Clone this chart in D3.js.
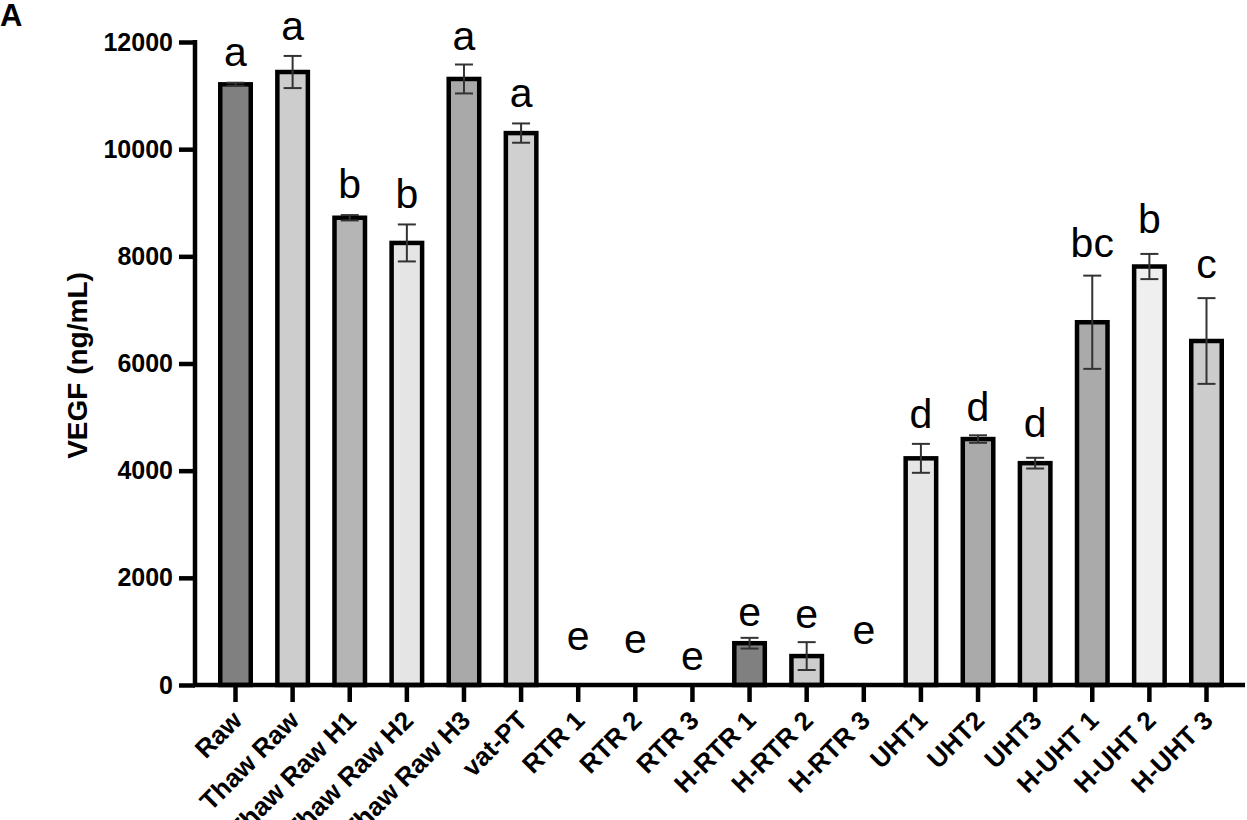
<!DOCTYPE html>
<html>
<head>
<meta charset="utf-8">
<script src="https://cdn.jsdelivr.net/npm/d3@7"></script>
<style>
  html, body { margin: 0; padding: 0; background: #fff; }
  svg { display: block; }
  text { font-family: "Liberation Sans", Arial, Helvetica, sans-serif; }
</style>
</head>
<body>
<svg id="chart" width="1247" height="820"></svg>
<script>
// ---- data ----
const categories = ["Raw", "Thaw Raw", "Thaw Raw H1", "Thaw Raw H2", "Thaw Raw H3", "vat-PT",
  "RTR 1", "RTR 2", "RTR 3", "H-RTR 1", "H-RTR 2", "H-RTR 3",
  "UHT1", "UHT2", "UHT3", "H-UHT 1", "H-UHT 2", "H-UHT 3"];
const means = [11210, 11440, 8720, 8250, 11310, 10300,
  0, 0, 0, 780, 540, 0,
  4230, 4590, 4140, 6770, 7810, 6420];
const errors = [30, 300, 50, 345, 270, 180,
  0, 0, 0, 100, 260, 0,
  270, 70, 100, 870, 235, 800];
const letters = ["a", "a", "b", "b", "a", "a",
  "e", "e", "e", "e", "e", "e",
  "d", "d", "d", "bc", "b", "c"];
// height (in ng/mL) at which each significance letter sits
const letterAt = [11550, 12040, 9090, 8900, 11850, 10790,
  650, 600, 280, 1100, 1060, 765,
  4800, 4930, 4630, 7990, 8440, 7600];
const fills = ["#808080", "#cdcdcd", "#b5b5b5", "#e5e5e5", "#a9a9a9", "#d0d0d0",
  "#808080", "#cdcdcd", "#b5b5b5", "#808080", "#cdcdcd", "#b5b5b5",
  "#e6e6e6", "#aaaaaa", "#cccccc", "#aaaaaa", "#efefef", "#cccccc"];
const yTicks = [0, 2000, 4000, 6000, 8000, 10000, 12000];
const yLabel = "VEGF (ng/mL)";
const panelLabel = "A";

// ---- layout ----
const svg = d3.select("#chart");
const axisX = 195, baseY = 685, topY = 42, axisRight = 1245;

const x = d3.scaleBand().domain(categories)
  .range([206.94, 1235.06]).paddingInner(0.466).paddingOuter(0.233);
const y = d3.scaleLinear().domain([0, 12000]).range([baseY, topY]);

const data = categories.map((c, i) => ({
  cat: c, mean: means[i], err: errors[i], letter: letters[i], at: letterAt[i], fill: fills[i]
}));

// bars
svg.append("g").selectAll("rect")
  .data(data.filter(d => d.mean > 0))
  .join("rect")
  .attr("x", d => x(d.cat))
  .attr("y", d => y(d.mean))
  .attr("width", x.bandwidth())
  .attr("height", d => y(0) - y(d.mean))
  .attr("fill", d => d.fill)
  .attr("stroke", "#000")
  .attr("stroke-width", 4.5);

// error bars
const cap = 18;
const eg = svg.append("g").attr("stroke", "#333").attr("stroke-width", 2).attr("fill", "none");
data.filter(d => d.err > 0).forEach(d => {
  const cx = x(d.cat) + x.bandwidth() / 2;
  eg.append("line").attr("x1", cx).attr("x2", cx)
    .attr("y1", y(d.mean - d.err)).attr("y2", y(d.mean + d.err));
  eg.append("line").attr("x1", cx - cap / 2).attr("x2", cx + cap / 2)
    .attr("y1", y(d.mean + d.err)).attr("y2", y(d.mean + d.err));
  eg.append("line").attr("x1", cx - cap / 2).attr("x2", cx + cap / 2)
    .attr("y1", y(d.mean - d.err)).attr("y2", y(d.mean - d.err));
});

// letters
svg.append("g").selectAll("text")
  .data(data)
  .join("text")
  .attr("x", d => x(d.cat) + x.bandwidth() / 2)
  .attr("y", d => y(d.at))
  .attr("text-anchor", "middle")
  .attr("font-size", 41)
  .attr("fill", "#000")
  .text(d => d.letter);

// y axis
const yAxis = svg.append("g").attr("transform", `translate(${axisX},0)`)
  .call(d3.axisLeft(y).tickValues(yTicks).tickSize(16).tickPadding(6).tickFormat(d3.format("d")));
yAxis.select(".domain").attr("d", `M0,${topY - 2}V${baseY}`).attr("stroke", "#000").attr("stroke-width", 4.5);
yAxis.selectAll(".tick line").attr("stroke", "#000").attr("stroke-width", 4.5);
yAxis.selectAll(".tick text").attr("font-size", 25).attr("font-weight", "bold").attr("fill", "#000")
  .style("font-family", "'Liberation Sans', Arial, sans-serif");

// x axis
const xAxis = svg.append("g").attr("transform", `translate(0,${baseY})`)
  .call(d3.axisBottom(x).tickSize(17).tickFormat(""));
xAxis.select(".domain").attr("d", `M${axisX - 2},0H${axisRight}`).attr("stroke", "#000").attr("stroke-width", 4.5);
xAxis.selectAll(".tick line").attr("stroke", "#000").attr("stroke-width", 4.5);
xAxis.selectAll(".tick text").remove();

// rotated x labels
svg.append("g").selectAll("text")
  .data(categories)
  .join("text")
  .attr("transform", c => `translate(${x(c) + x.bandwidth() / 2 + 8},${baseY + 37}) rotate(-45)`)
  .attr("text-anchor", "end")
  .attr("font-size", 26)
  .attr("font-weight", "bold")
  .attr("fill", "#000")
  .text(c => c);

// y label
svg.append("text")
  .attr("transform", `translate(87,${(topY + baseY) / 2 + 2}) rotate(-90)`)
  .attr("text-anchor", "middle")
  .attr("font-size", 28)
  .attr("font-weight", "bold")
  .attr("fill", "#000")
  .text(yLabel);

// panel label
svg.append("text")
  .attr("x", 0).attr("y", 26)
  .attr("font-size", 31)
  .attr("font-weight", "bold")
  .attr("fill", "#000")
  .text(panelLabel);
</script>
</body>
</html>
